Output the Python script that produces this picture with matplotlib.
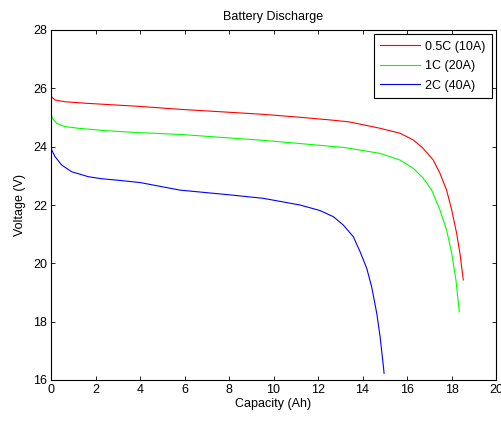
import matplotlib
matplotlib.use('Agg')
import matplotlib.pyplot as plt

plt.rcParams['font.family'] = ['Liberation Sans', 'DejaVu Sans']
plt.rcParams['font.size'] = 9

# capacity (Ah) / voltage (V)
cap_05c = [0, 0.02, 0.18, 0.63, 1.53, 2.43, 4, 5.8, 8, 9.5, 11, 12.5, 13.4,
           14.79, 15.69, 16.28, 16.73, 17.18, 17.48, 17.78, 18.01, 18.23,
           18.38, 18.53]
volt_05c = [25.95, 25.71, 25.6, 25.54, 25.49, 25.45, 25.38, 25.28, 25.18,
            25.11, 25.02, 24.92, 24.85, 24.63, 24.46, 24.23, 23.94, 23.54,
            23.09, 22.51, 21.83, 21.03, 20.34, 19.43]

cap_1c = [0, 0.01, 0.06, 0.25, 0.63, 1.23, 2.43, 4, 5.8, 8, 9.5, 11, 13.2,
          14.79, 15.69, 16.28, 16.73, 17.11, 17.48, 17.78, 18.01, 18.2, 18.35]
volt_1c = [25.49, 25.14, 24.97, 24.8, 24.69, 24.63, 24.55, 24.48, 24.42,
           24.3, 24.22, 24.12, 23.97, 23.77, 23.54, 23.26, 22.92, 22.51,
           21.83, 21.14, 20.34, 19.43, 18.34]

cap_2c = [0, 0.03, 0.18, 0.48, 0.93, 1.68, 2.28, 3, 4, 5.8, 8, 9.53, 11.19,
          12.09, 12.69, 13.14, 13.59, 13.89, 14.19, 14.41, 14.64, 14.79,
          14.94, 14.97]
volt_2c = [24.23, 23.89, 23.66, 23.37, 23.14, 22.97, 22.9, 22.85, 22.77,
           22.51, 22.35, 22.23, 22.0, 21.81, 21.6, 21.31, 20.91, 20.4, 19.83,
           19.2, 18.29, 17.49, 16.46, 16.23]

labels = ['0.5C (10A)', '1C (20A)', '2C (40A)']

fig = plt.figure(figsize=(5.02, 4.21), dpi=100)
ax = fig.add_axes([51 / 502, 1 - 380 / 421, 445 / 502, 350 / 421])

ax.plot(cap_05c, volt_05c, color='#ff0000', lw=0.8, label=labels[0])
ax.plot(cap_1c, volt_1c, color='#00ff00', lw=0.8, label=labels[1])
ax.plot(cap_2c, volt_2c, color='#0000ff', lw=0.8, label=labels[2])

ax.set_xlim(0, 20)
ax.set_ylim(16, 28)
ax.set_xticks(range(0, 21, 2))
ax.set_yticks(range(16, 29, 2))
ax.tick_params(direction='in', top=True, right=True, length=3, width=0.6,
               labelsize=9, pad=3)
for s in ax.spines.values():
    s.set_linewidth(0.8)

ax.set_title('Battery Discharge', fontsize=9, pad=7)
ax.set_xlabel('Capacity (Ah)', fontsize=9, labelpad=1)
ax.set_ylabel('Voltage (V)', fontsize=9, labelpad=5)

leg = ax.legend(loc='upper right', fancybox=False, framealpha=1,
                edgecolor='black', fontsize=9, handlelength=3.2,
                handletextpad=0.4, borderaxespad=0.35, labelspacing=0.6,
                borderpad=0.5)
leg.get_frame().set_linewidth(0.8)

fig.savefig('out.png', dpi=100)
